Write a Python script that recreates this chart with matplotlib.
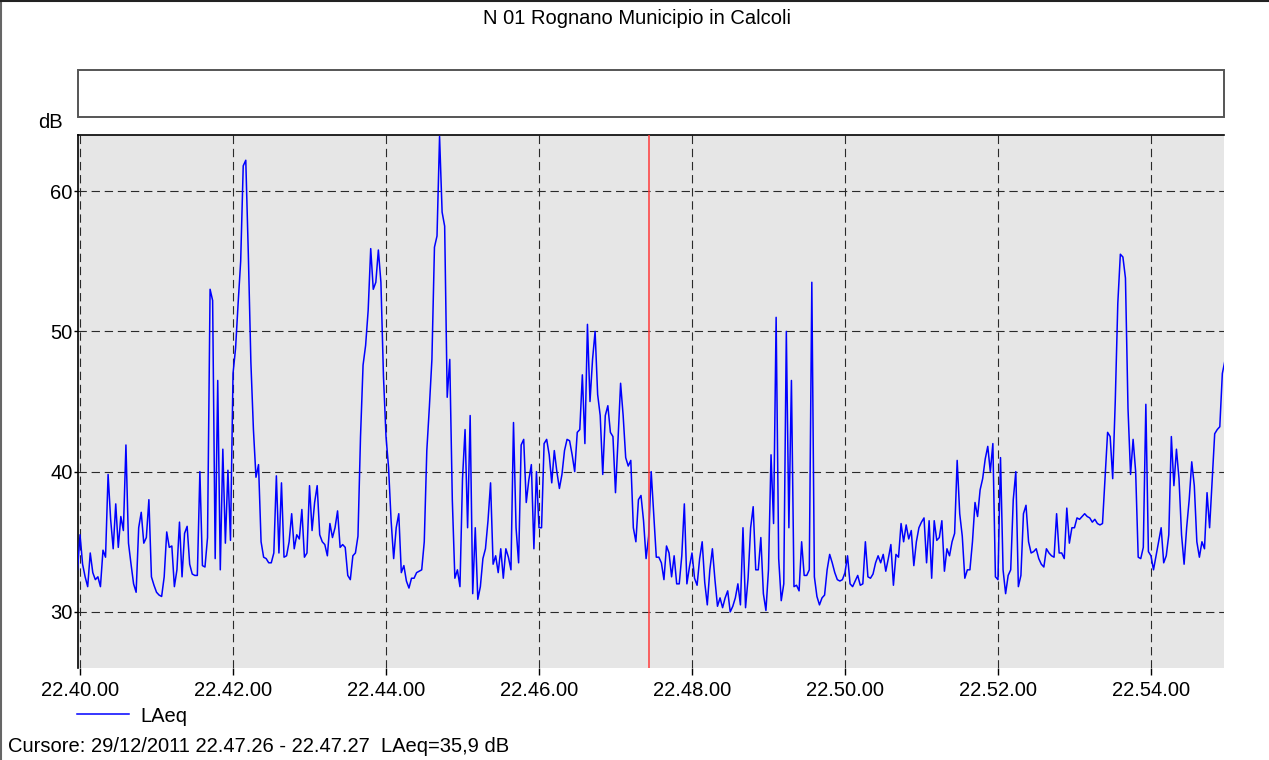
import numpy as np
import matplotlib
matplotlib.use("Agg")
import matplotlib.pyplot as plt
from matplotlib.patches import Rectangle
from matplotlib.lines import Line2D

plt.rcParams['font.family'] = ['Liberation Sans', 'DejaVu Sans']
FS = 14.5

# ---------------- data ----------------
title = "N 01 Rognano Municipio in Calcoli"
series_name = "LAeq"
cursor_text = "Cursore: 29/12/2011 22.47.26 - 22.47.27  LAeq=35,9 dB"
start_seconds = -2          # first sample: 22.39.58 (seconds after 22.40.00)
sample_step = 2             # seconds between samples
cursor_seconds = 446.5      # 22.47.26-27

laeq = [
    33.0, 35.5, 33.4, 32.5, 31.8, 34.2, 32.8, 32.3, 32.5, 31.8,
    34.4, 33.9, 39.8, 36.6, 34.5, 37.7, 34.6, 36.8, 35.8, 41.9,
    34.9, 33.4, 32.0, 31.4, 36.0, 37.1, 34.9, 35.3, 38.0, 32.5,
    31.9, 31.4, 31.2, 31.1, 32.5, 35.7, 34.6, 34.7, 31.8, 33.0,
    36.4, 32.5, 35.6, 36.1, 33.4, 32.7, 32.6, 32.6, 40.0, 33.3,
    33.2, 35.3, 53.0, 52.2, 33.8, 46.5, 33.0, 41.6, 34.9, 40.1,
    35.1, 47.0, 48.8, 52.0, 55.0, 61.8, 62.2, 55.5, 47.8, 43.0,
    39.6, 40.5, 35.0, 33.9, 33.8, 33.5, 33.5, 34.2, 39.7, 34.2,
    39.2, 33.9, 34.0, 35.0, 37.0, 34.5, 35.5, 35.2, 37.3, 33.9,
    34.2, 39.0, 35.8, 37.8, 39.0, 35.5, 35.0, 34.8, 34.0, 36.3,
    35.3, 36.0, 37.2, 34.6, 34.8, 34.6, 32.6, 32.3, 34.0, 34.2,
    35.4, 42.5, 47.6, 49.0, 51.5, 55.9, 53.0, 53.5, 55.8, 53.5,
    46.8, 42.5, 40.3, 36.5, 33.8, 36.0, 37.0, 32.8, 33.3, 32.2,
    31.7, 32.4, 32.4, 32.8, 32.9, 33.0, 35.0, 41.5, 44.6, 48.0,
    56.0, 56.8, 63.9, 58.5, 57.5, 45.3, 48.0, 38.0, 32.4, 33.0,
    31.8, 39.5, 43.0, 36.0, 44.0, 31.3, 36.0, 30.9, 31.8, 33.8,
    34.5, 36.5, 39.2, 33.4, 34.0, 32.8, 34.5, 32.4, 34.5, 33.9,
    33.0, 43.5, 36.0, 33.5, 41.9, 42.3, 37.8, 39.4, 40.5, 34.5,
    40.0, 36.0, 36.0, 42.0, 42.3, 41.2, 39.2, 41.5, 40.0, 38.8,
    39.8, 41.5, 42.3, 42.2, 41.2, 40.0, 42.8, 43.0, 46.9, 42.0,
    50.5, 45.0, 48.0, 50.0, 45.5, 44.0, 39.8, 44.0, 44.7, 42.8,
    42.5, 38.5, 42.3, 46.3, 44.0, 41.0, 40.4, 40.8, 36.0, 35.0,
    38.0, 38.3, 36.5, 33.8, 35.4, 40.0, 37.0, 33.9, 33.9, 33.5,
    32.3, 34.7, 34.2, 32.5, 34.0, 32.0, 32.0, 34.0, 37.7, 32.0,
    33.2, 34.2, 32.4, 31.9, 33.8, 35.0, 32.1, 30.5, 33.0, 34.5,
    32.3, 30.4, 31.0, 30.3, 31.0, 31.5, 30.0, 30.4, 31.0, 32.0,
    30.5, 36.0, 30.3, 32.4, 36.0, 37.5, 33.0, 33.0, 35.3, 31.3,
    30.1, 33.0, 41.2, 36.3, 51.0, 33.8, 30.8, 32.0, 50.0, 36.0,
    46.5, 31.8, 31.9, 31.5, 35.0, 32.6, 32.6, 33.0, 53.5, 32.5,
    31.1, 30.5, 31.0, 31.2, 33.0, 34.1, 33.5, 32.8, 32.3, 32.2,
    32.3, 32.8, 34.0, 32.0, 31.8, 32.2, 32.6, 31.9, 32.0, 35.0,
    32.5, 32.4, 32.7, 33.5, 34.0, 33.5, 34.1, 32.9, 33.8, 34.8,
    31.9, 34.1, 33.9, 36.3, 35.0, 36.2, 35.2, 35.8, 33.3, 35.0,
    36.0, 36.4, 36.7, 33.5, 36.5, 32.4, 36.5, 35.1, 35.3, 36.5,
    32.9, 34.5, 34.0, 35.0, 35.6, 40.8, 37.0, 35.4, 32.4, 33.0,
    33.0, 35.0, 37.8, 36.8, 38.7, 39.5, 40.9, 41.8, 40.0, 42.0,
    32.5, 32.3, 41.0, 33.0, 31.3, 32.6, 33.0, 38.0, 40.0, 31.8,
    32.6, 37.0, 37.6, 35.0, 34.2, 34.3, 34.5, 33.8, 33.4, 33.2,
    34.5, 34.2, 34.0, 33.9, 37.0, 34.2, 34.2, 33.8, 37.4, 34.9,
    36.0, 36.0, 36.7, 36.6, 36.8, 37.0, 36.8, 36.7, 36.4, 36.6,
    36.3, 36.2, 36.3, 39.5, 42.8, 42.5, 39.5, 45.0, 52.0, 55.5,
    55.3, 53.8, 44.5, 39.8, 42.3, 40.0, 33.9, 33.8, 34.6, 44.8,
    34.3, 34.0, 33.0, 34.0, 35.0, 36.0, 33.5, 34.0, 35.5, 42.5,
    39.0, 41.6, 39.5, 35.5, 33.4, 36.0, 38.0, 40.7, 39.0, 35.0,
    33.9, 35.0, 34.5, 38.5, 36.0, 39.3, 42.7, 43.0, 43.2, 47.0,
    47.9,
]

tick_seconds = [0, 120, 240, 360, 480, 600, 720, 840]
tick_labels = ["22.40.00", "22.42.00", "22.44.00", "22.46.00",
               "22.48.00", "22.50.00", "22.52.00", "22.54.00"]
y_ticks = [30, 40, 50, 60]

# ---------------- figure ----------------
W, H = 1269, 760
fig = plt.figure(figsize=(W / 100, H / 100), dpi=100)
fig.patch.set_facecolor("white")

def fx(px):
    return px / W

def fy(py):
    return 1 - py / H

ax = fig.add_axes([fx(78), fy(668), fx(1224) - fx(78), fy(135) - fy(668)])
ax.set_facecolor("#e6e6e6")

t = start_seconds + sample_step * np.arange(len(laeq))
ax.plot(t, laeq, color="#0000ff", lw=1.1, label=series_name, zorder=3)
ax.axvline(cursor_seconds, color="#ff3b3b", lw=1.1, zorder=4)

ax.set_xlim(-1.6, 897.3)
ax.set_ylim(26, 64)
ax.set_xticks(tick_seconds)
ax.set_xticklabels(tick_labels, fontsize=FS)
ax.set_yticks(y_ticks)
ax.set_yticklabels([str(v) for v in y_ticks], fontsize=FS)
ax.tick_params(axis="x", direction="out", length=5, width=1, pad=4, colors="black")
ax.tick_params(axis="y", direction="out", length=3, width=1, pad=1, colors="black")

ax.grid(True, color="#2a2a2a", lw=0.8, linestyle=(0, (7.5, 4.3)), zorder=1)
ax.set_axisbelow(True)

for s in ["right", "bottom"]:
    ax.spines[s].set_visible(False)
for s in ["left", "top"]:
    ax.spines[s].set_color("black")
    ax.spines[s].set_linewidth(1.2)

# empty box above the chart
fig.add_artist(Rectangle((fx(78), fy(117)), fx(1224) - fx(78), fy(70) - fy(117),
                         transform=fig.transFigure, facecolor="white",
                         edgecolor="#555555", lw=1.4))

# outer frame (left / top)
fig.add_artist(Line2D([fx(0.8), fx(0.8)], [0, 1], transform=fig.transFigure,
                      color="#666666", lw=1.5))
fig.add_artist(Line2D([0, 1], [fy(0.8), fy(0.8)], transform=fig.transFigure,
                      color="#222222", lw=1.5))

fig.text(fx(637), fy(18), title, ha="center", va="center", fontsize=FS)
fig.text(fx(38), fy(123), "dB", ha="left", va="center", fontsize=FS)
fig.text(fx(8), fy(746), cursor_text, ha="left", va="center", fontsize=FS)

fig.legend(loc="center left", bbox_to_anchor=(fx(77), fy(716)),
           frameon=False, fontsize=FS, handlelength=2.6, handletextpad=0.55,
           borderpad=0, borderaxespad=0)

fig.savefig("out.png", dpi=100, facecolor="white")
